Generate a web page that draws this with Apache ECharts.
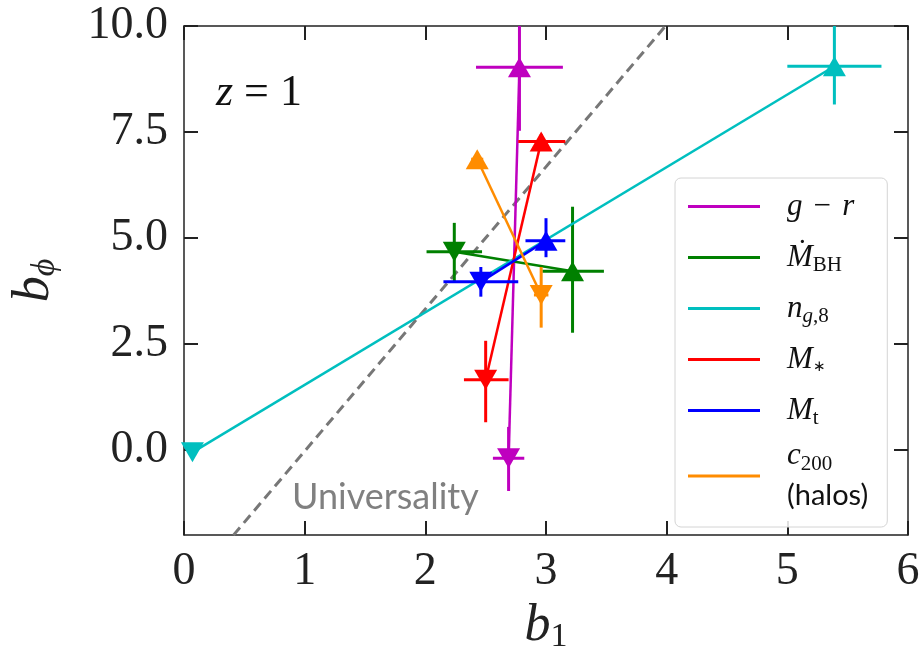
<!DOCTYPE html>
<html>
<head>
<meta charset="utf-8">
<script src="https://cdn.jsdelivr.net/npm/echarts@6/dist/echarts.min.js"></script>
<style>
  html, body { margin: 0; padding: 0; background: #fff; }
  #chart { width: 923px; height: 659px; }
</style>
</head>
<body>
<div id="chart"></div>
<script>
// tick values
const xTicks = [0, 1, 2, 3, 4, 5, 6]
const yTicks = [0, 2.5, 5, 7.5, 10]

// one entry per property: g-r, Mdot_BH, n_g8, M_*, M_t, c200
const names = ['gr', 'mbh', 'ng8', 'mstar', 'mt', 'c200']
// low-b point (down triangle) and high-b point (up triangle)
const lowPts  = [[2.69, -0.19], [2.24, 4.68], [0.07, -0.05], [2.50, 1.66], [2.46, 3.97], [2.96, 3.66]]
const highPts = [[2.78, 9.03], [3.22, 4.22], [5.39, 9.05], [2.96, 7.28], [3.00, 4.94], [2.43, 6.86]]
// error ranges [lo, hi]
const lowXErr  = [[2.56, 2.82], [2.01, 2.47], [0.04, 0.10], [2.32, 2.69], [2.15, 2.77], [2.90, 3.02]]
const lowYErr  = [[-0.96, 0.55], [3.97, 5.36], [-0.15, 0.05], [0.66, 2.58], [3.62, 4.32], [2.89, 4.32]]
const highXErr = [[2.42, 3.14], [2.97, 3.48], [5.00, 5.78], [2.77, 3.16], [2.83, 3.16], [2.38, 2.48]]
const highYErr = [[7.53, 10.53], [2.77, 5.74], [8.15, 10.0], [7.10, 7.45], [4.55, 5.47], [6.70, 7.00]]

// universality relation endpoints
const univX = [0.41, 3.99]
const univY = [-2, 10]

const colors = ['#bf00bf', '#008000', '#00bfbf', '#ff0000', '#0000ff', '#ff8c00']
const labels = {
  gr: '{it|g} {n| − } {it|r}',
  mbh: '{it|Ṁ}{sub|BH}',
  ng8: '{it|n}{subi|g}{sub|,8}',
  mstar: '{it|M}{star|∗}',
  mt: '{it|M}{sub|t}',
  c200: '{it|c}{sub|200}\n{sans|(halos)}'
}

const serif = 'Liberation Serif'
const chart = echarts.init(document.getElementById('chart'), null, { renderer: 'canvas' })

const series = [{
  name: 'universality', type: 'line', silent: true,
  data: univX.map((x, i) => [x, univY[i]]),
  symbol: 'none',
  lineStyle: { color: '#777', width: 3, type: [10, 6] },
  z: 1
}]

names.forEach((n, i) => {
  const c = colors[i]
  series.push({
    name: n, type: 'line', silent: true, z: 2 + i,
    data: [{ value: lowPts[i], symbolRotate: 180 }, { value: highPts[i] }],
    symbol: 'triangle', symbolSize: [23, 20], showSymbol: true,
    itemStyle: { color: c },
    lineStyle: { color: c, width: 2.5 }
  })
  series.push({
    name: n, type: 'custom', clip: true, silent: true, z: 2 + i,
    itemStyle: { color: c },
    encode: { x: [0, 2, 3], y: [1, 4, 5] },
    data: [
      [...lowPts[i], ...lowXErr[i], ...lowYErr[i]],
      [...highPts[i], ...highXErr[i], ...highYErr[i]]
    ],
    renderItem(params, api) {
      const x = api.value(0), y = api.value(1)
      const l = api.coord([api.value(2), y]), r = api.coord([api.value(3), y])
      const b = api.coord([x, api.value(4)]), t = api.coord([x, api.value(5)])
      const style = { stroke: c, lineWidth: 3 }
      return {
        type: 'group',
        children: [
          { type: 'line', shape: { x1: l[0], y1: l[1], x2: r[0], y2: r[1] }, style },
          { type: 'line', shape: { x1: b[0], y1: b[1], x2: t[0], y2: t[1] }, style }
        ]
      }
    }
  })
})

const axisCommon = {
  axisLine: { onZero: false, lineStyle: { color: '#222', width: 1.5 } },
  axisTick: { inside: true, length: 14, lineStyle: { color: '#222', width: 2 } },
  splitLine: { show: false }
}

const legendRich = {
  it: { fontFamily: serif, fontStyle: 'italic', fontSize: 31, color: '#111' },
  n: { fontFamily: serif, fontSize: 31, color: '#111' },
  sub: { fontFamily: serif, fontSize: 21, color: '#111', padding: [16, 0, 0, 0] },
  star: { fontFamily: serif, fontSize: 15, color: '#111', padding: [16, 0, 0, 0] },
  subi: { fontFamily: serif, fontStyle: 'italic', fontSize: 21, color: '#111', padding: [16, 0, 0, 0] },
  sans: { fontFamily: 'Lato', fontSize: 29, color: '#111' }
}

const option = {
  backgroundColor: '#fff',
  animation: false,
  grid: { left: 179, right: 15, top: 26, bottom: 114 },
  title: [
    {
      text: '{it|z}{n| = 1}', left: 211, top: 66,
      textStyle: {
        rich: {
          it: { fontFamily: serif, fontStyle: 'italic', fontWeight: 'normal', fontSize: 44, color: '#111' },
          n: { fontFamily: serif, fontWeight: 'normal', fontSize: 44, color: '#111' }
        }
      }
    },
    {
      text: 'Universality', left: 287, top: 474,
      textStyle: { fontFamily: 'Lato', fontWeight: 'normal', fontSize: 36, color: '#808080' }
    }
  ],
  legend: {
    orient: 'vertical', left: 675, top: 178,
    data: names.map((n, i) => ({
      name: n, icon: 'rect', itemStyle: { color: colors[i] },
      textStyle: { lineHeight: n === 'c200' ? 40 : 51, rich: legendRich }
    })),
    itemWidth: 72, itemHeight: 3, itemGap: 0,
    selectedMode: false,
    padding: [3, 19, 11, 13],
    backgroundColor: 'rgba(255,255,255,0.85)',
    borderColor: '#d4d4d4', borderWidth: 1, borderRadius: 6,
    formatter: n => labels[n],
    textStyle: { lineHeight: 51, padding: [0, 0, 0, 22], rich: legendRich }
  },
  xAxis: [
    {
      type: 'value', min: 0, max: 6, interval: 1, position: 'bottom',
      ...axisCommon,
      axisLabel: { fontFamily: serif, fontSize: 46, color: '#222', margin: 14 },
      name: '{it|b}{sub|1}', nameLocation: 'middle', nameGap: 52,
      nameTextStyle: {
        rich: {
          it: { fontFamily: serif, fontStyle: 'italic', fontSize: 52, color: '#222' },
          sub: { fontFamily: serif, fontSize: 34, color: '#222', padding: [22, 0, 0, 0] }
        }
      }
    },
    {
      type: 'value', min: 0, max: 6, interval: 1, position: 'top',
      ...axisCommon, axisLabel: { show: false }
    }
  ],
  yAxis: [
    {
      type: 'value', min: -2, max: 10, position: 'left',
      ...axisCommon,
      axisTick: { ...axisCommon.axisTick, customValues: yTicks },
      axisLabel: {
        customValues: yTicks, formatter: v => v.toFixed(1),
        fontFamily: serif, fontSize: 46, color: '#222', margin: 16
      },
      name: '{it|b}{sub|ϕ}', nameLocation: 'middle', nameGap: 122, nameRotate: 90,
      nameTextStyle: {
        rich: {
          it: { fontFamily: serif, fontStyle: 'italic', fontSize: 52, color: '#222' },
          sub: { fontFamily: serif, fontStyle: 'italic', fontSize: 34, color: '#222', padding: [22, 0, 0, 0] }
        }
      }
    },
    {
      type: 'value', min: -2, max: 10, position: 'right',
      ...axisCommon,
      axisTick: { ...axisCommon.axisTick, customValues: yTicks },
      axisLabel: { show: false }
    }
  ],
  series
}

chart.setOption(option)
</script>
</body>
</html>
